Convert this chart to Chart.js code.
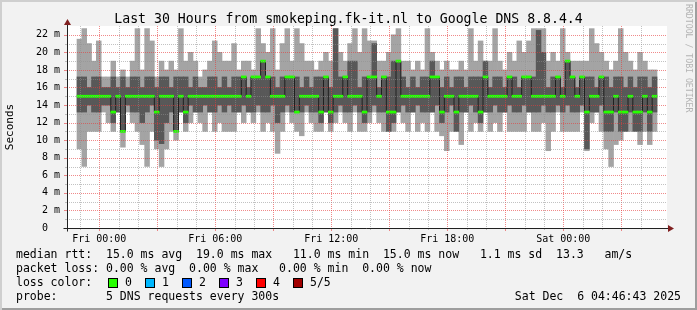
<!DOCTYPE html>
<html>
<head>
<meta charset="utf-8">
<script src="https://cdn.jsdelivr.net/npm/chart.js@4"></script>
<style>
  html, body { margin: 0; padding: 0; }
  body { width: 697px; height: 310px; overflow: hidden; }
  #frame {
    position: relative; width: 697px; height: 310px; background: #f2f2f2;
    box-shadow: inset 2px 2px 0 #cfcfcf, inset -2px -2px 0 #9e9e9e;
    font-family: 'DejaVu Sans Mono', monospace; color: #000;
  }
  #rtt { position: absolute; left: 0; top: 0; }
  .txt { position: absolute; white-space: pre; font-size: 11.5px; line-height: 14px; }
  #title { position: absolute; left: 0; width: 697px; top: 11px; text-align: center; font-size: 13.2px; line-height: 16px; }
  #mark { position: absolute; left: 684px; top: 4px; writing-mode: vertical-rl; font-size: 8.2px; color: #b4b4b4; white-space: pre; }
  .box { position: absolute; width: 8px; height: 8px; border: 1px solid #000; }
</style>
</head>
<body>
<div id="frame">
  <canvas id="rtt" width="697" height="250"></canvas>
  <div id="title">Last 30 Hours from smokeping.fk-it.nl to Google DNS 8.8.4.4</div>
  <div id="mark">RRDTOOL / TOBI OETIKER</div>

  <div class="txt" style="left:16px; top:247px;">median rtt:  15.0 ms avg  19.0 ms max   11.0 ms min  15.0 ms now   1.1 ms sd  13.3   am/s</div>
  <div class="txt" style="left:16px; top:261px;">packet loss: 0.00 % avg  0.00 % max   0.00 % min  0.00 % now</div>
  <div class="txt" style="left:16px; top:275px;">loss color:</div>
  <div id="lossKey"></div>
  <div class="txt" style="left:16px; top:289px;">probe:       5 DNS requests every 300s</div>
  <div class="txt" style="right:16px; top:289px;">Sat Dec  6 04:46:43 2025</div>
</div>

<script>
/* ---------- Data: 5 DNS pings per 15 min slot, ms ---------- */
// slowest ping (top of light smoke)
const pingMax = [
  21.5, 22.7, 21, 19, 21.3, 17.2, 17.2, 19, 17.2, 18,
  17.2, 19, 22.7, 18, 22.7, 21.3, 17.2, 19, 18, 19,
  18, 22.7, 19, 20, 19, 17.2, 18, 19, 21.3, 20,
  19, 19, 21, 18, 19, 19, 18, 22.7, 21, 20,
  22.7, 18, 21, 22.7, 19, 22.7, 21, 19, 19, 18,
  19, 20, 19, 22.7, 20, 19, 21, 22.7, 20, 22.7,
  21.3, 21.3, 19, 19, 20, 22, 22.7, 19, 19, 18,
  19, 18, 22.7, 20, 19, 18, 19, 18, 18, 19,
  18, 22.7, 19, 21.3, 19, 19, 22.7, 19, 18, 20,
  19, 21.3, 20, 21.3, 22.7, 22.7, 22.7, 19, 20, 19,
  22.7, 20, 19, 19, 19, 19, 22.7, 21, 20, 19,
  18, 19, 22.7, 20, 19, 18, 20, 19, 18, 18
];
// 4th ping (top of dark smoke)
const pingHigh = [
  17.2, 17.2, 16, 17.2, 17.2, 16, 16, 17.2, 16, 17.2,
  16, 17.2, 17.2, 16, 17.2, 17.2, 16, 17.2, 17.2, 16,
  17.2, 17.2, 17.2, 16, 17.2, 16, 16, 17.2, 17.2, 16,
  17.2, 16, 17.2, 17.2, 17.2, 16, 17.2, 17.2, 19, 17.2,
  17.2, 16, 17.2, 17.2, 17.2, 17.2, 16, 17.2, 16, 17.2,
  17.2, 17.2, 16, 22.7, 17.2, 17.2, 19, 19, 16, 17.2,
  17.2, 21, 16, 17.2, 17.2, 19, 19, 17.2, 16, 17.2,
  16, 17.2, 17.2, 19, 17.2, 16, 17.2, 16, 17.2, 17.2,
  16, 17.2, 17.2, 17.2, 19, 16, 17.2, 17.2, 16, 17.2,
  17.2, 16, 17.2, 17.2, 17.2, 22.5, 20, 16, 17.2, 17.2,
  16, 19, 17.2, 16, 17.2, 17.2, 17.2, 16, 17.2, 17.2,
  16, 17.2, 17.2, 16, 17.2, 16, 17.2, 17.2, 16, 17.2
];
// median ping
const medianRtt = [
  15, 15, 15, 15, 15, 15, 15, 13.2, 15, 11,
  15, 15, 15, 15, 15, 15, 13.2, 15, 15, 15,
  11, 15, 13.2, 15, 15, 15, 15, 15, 15, 15,
  15, 15, 15, 15, 17.2, 15, 17.2, 17.2, 19, 17.2,
  15, 15, 15, 17.2, 17.2, 13.2, 15, 15, 15, 15,
  13.2, 17.2, 13.2, 15, 15, 17.2, 15, 15, 15, 13.2,
  17.2, 17.2, 15, 17.2, 13.2, 13.2, 19, 15, 15, 15,
  15, 15, 15, 17.2, 17.2, 13.2, 15, 15, 13.2, 15,
  15, 15, 15, 13.2, 17.2, 15, 15, 15, 15, 17.2,
  15, 15, 17.2, 17.2, 15, 15, 15, 15, 15, 17.2,
  15, 19, 17.2, 15, 17.2, 13.2, 15, 15, 17.2, 13.2,
  13.2, 15, 13.2, 13.2, 15, 13.2, 13.2, 15, 13.2, 15
];
// 2nd ping (bottom of dark smoke)
const pingLow = [
  13.2, 13.2, 14, 13.2, 13.2, 14, 14, 12, 13.2, 11,
  14, 13.2, 13.2, 12, 13.2, 14, 10, 9.6, 12, 13.2,
  11, 13.2, 12, 14, 13.2, 13.2, 14, 13.2, 13.2, 14,
  13.2, 14, 13.2, 13.2, 14, 13.2, 13.2, 14, 13.2, 13.2,
  14, 12, 13.2, 14, 13.2, 13.2, 13.2, 14, 13.2, 13.2,
  12, 13.2, 12, 13.2, 14, 13.2, 13.2, 14, 13.2, 12,
  13.2, 14, 13.2, 13.2, 11, 12, 13.2, 14, 13.2, 13.2,
  14, 13.2, 13.2, 13.2, 14, 12, 13.2, 14, 11, 13.2,
  13.2, 14, 13.2, 12, 13.2, 13.2, 14, 13.2, 13.2, 14,
  13.2, 13.2, 14, 13.2, 13.2, 13.2, 14, 13.2, 13.2, 14,
  13.2, 14, 13.2, 13.2, 14, 9, 13.2, 13.2, 14, 11,
  11, 13.2, 11, 11, 13.2, 11, 11, 13.2, 11, 13.2
];
// fastest ping (bottom of light smoke)
const pingMin = [
  9, 7, 11, 11, 11, 13.2, 12, 11, 13.2, 9.2,
  13.2, 12, 11, 9.5, 7, 11, 9, 7, 9, 11,
  10, 13.2, 11, 12, 13.2, 12, 11, 13.2, 11, 12,
  11, 11, 11, 13.2, 12, 13.2, 12, 13.2, 11, 12,
  11, 8.5, 11, 13.2, 12, 11, 10.5, 13.2, 12, 11,
  11, 13.2, 11, 12, 13.2, 12, 11, 13.2, 11, 11,
  12, 13.2, 12, 11, 11, 11, 13.2, 12, 11, 13.2,
  11, 12, 11, 13.2, 11, 10.5, 8.8, 11, 11, 9.5,
  13.2, 11, 12, 11, 13.2, 11, 12, 11, 13.2, 11,
  11, 11, 11, 13.2, 11, 11, 12, 8.8, 11, 13.2,
  11, 11, 11, 11, 13.2, 8.8, 12, 13.2, 11, 9,
  7, 9.5, 10, 11, 11, 11, 9.5, 11, 9.5, 11
];

// time axis, hours relative to Fri 00:00
const firstSlotHour = -1.15;
const slotHours = 0.25;
const timeTickHours = [0, 6, 12, 18, 24];
const timeTickLabels = ['Fri 00:00', 'Fri 06:00', 'Fri 12:00', 'Fri 18:00', 'Sat 00:00'];

const lossColors = ['#26ff00', '#00b8ff', '#0059ff', '#7e00ff', '#ff0000', '#a10000'];
const lossLabels = ['0', '1', '2', '3', '4', '5/5'];

/* ---------- Helpers ---------- */
const GRID = 'rgba(143,143,143,0.55)';
const MGRID = 'rgba(230,60,60,0.6)';
const ARROW = '#802020';
const MONO = "'DejaVu Sans Mono', monospace";

const slotTimes = medianRtt.map((_, i) => firstSlotHour + slotHours * (i + 0.5));
const span = (lo, hi) => slotTimes.map((t, i) => ({ x: t, y: [lo[i], hi[i]] }));
const hourGrid = [];
for (let h = -1; h <= 28; h++) hourGrid.push(h);
const msGrid = [];
for (let v = 0; v <= 22; v++) msGrid.push(v);

// loss colour key
const key = document.getElementById('lossKey');
lossColors.forEach((c, i) => {
    const x = 108 + i * 37;
    key.insertAdjacentHTML('beforeend',
        `<div class="box" style="left:${x}px; top:278px; background:${c}"></div>` +
        `<div class="txt" style="left:${x + 17}px; top:275px;">${lossLabels[i]}</div>`);
});

/* ---------- Plugins ---------- */
const canvasBack = {
    id: 'canvasBack',
    beforeDraw(chart) {
        const { ctx, chartArea: a } = chart;
        ctx.save();
        ctx.fillStyle = '#ffffff';
        ctx.fillRect(a.left, a.top, a.right - a.left, a.bottom - a.top);
        ctx.restore();
    }
};

// rrdtool draws its dotted grid over the smoke
const gridOverlay = {
    id: 'gridOverlay',
    afterDatasetsDraw(chart) {
        const { ctx, chartArea: a, scales: { x, y } } = chart;
        ctx.save();
        ctx.lineWidth = 1;
        ctx.setLineDash([1, 1]);
        hourGrid.forEach(h => {
            const px = Math.round(x.getPixelForValue(h)) + 0.5;
            ctx.strokeStyle = h % 3 === 0 ? MGRID : GRID;
            ctx.beginPath(); ctx.moveTo(px, a.top); ctx.lineTo(px, a.bottom); ctx.stroke();
        });
        msGrid.forEach(v => {
            if (v === 0) return;
            const py = Math.round(y.getPixelForValue(v)) + 0.5;
            ctx.strokeStyle = v % 2 === 0 ? MGRID : GRID;
            ctx.beginPath(); ctx.moveTo(a.left, py); ctx.lineTo(a.right, py); ctx.stroke();
        });
        // tick marks outside the plot
        ctx.setLineDash([]);
        hourGrid.forEach(h => {
            const px = Math.round(x.getPixelForValue(h)) + 0.5;
            const major = h % 3 === 0;
            ctx.strokeStyle = major ? MGRID : GRID;
            ctx.beginPath(); ctx.moveTo(px, a.bottom); ctx.lineTo(px, a.bottom + (major ? 3 : 2)); ctx.stroke();
        });
        msGrid.forEach(v => {
            const py = Math.round(y.getPixelForValue(v)) + 0.5;
            const major = v % 2 === 0;
            ctx.strokeStyle = major ? MGRID : GRID;
            ctx.beginPath(); ctx.moveTo(a.left, py); ctx.lineTo(a.left - (major ? 3 : 2), py); ctx.stroke();
        });
        ctx.restore();
    }
};

const axisArrows = {
    id: 'axisArrows',
    afterDraw(chart) {
        const { ctx, chartArea: a } = chart;
        const x0 = a.left + 0.5, y0 = a.bottom + 0.5;
        ctx.save();
        ctx.strokeStyle = '#212121';
        ctx.lineWidth = 1;
        ctx.beginPath();
        ctx.moveTo(x0 - 4, y0); ctx.lineTo(a.right + 2, y0);
        ctx.moveTo(x0, y0 + 3); ctx.lineTo(x0, a.top - 3);
        ctx.stroke();
        ctx.fillStyle = ARROW;
        ctx.beginPath();
        ctx.moveTo(x0, a.top - 7); ctx.lineTo(x0 - 3.5, a.top - 1); ctx.lineTo(x0 + 3.5, a.top - 1);
        ctx.closePath(); ctx.fill();
        ctx.beginPath();
        ctx.moveTo(a.right + 7, y0); ctx.lineTo(a.right + 1, y0 - 3.5); ctx.lineTo(a.right + 1, y0 + 3.5);
        ctx.closePath(); ctx.fill();
        ctx.restore();
    }
};

/* ---------- Chart ---------- */
new Chart(document.getElementById('rtt'), {
    data: {
        datasets: [
            {
                type: 'bar', label: 'smoke 1/5',
                data: span(pingMin, pingMax),
                backgroundColor: '#a4a4a4', order: 4
            },
            {
                type: 'bar', label: 'smoke 2/4',
                data: span(pingLow, pingHigh),
                backgroundColor: '#585858', order: 3
            },
            {
                type: 'line', label: 'median',
                data: slotTimes.map((t, i) => ({ x: t, y: medianRtt[i] })),
                borderColor: '#202020', borderWidth: 1,
                stepped: 'middle', pointRadius: 0, order: 2
            },
            {
                type: 'bar', label: 'loss 0',
                data: slotTimes.map((t, i) => ({ x: t, y: [medianRtt[i] - 0.12, medianRtt[i] + 0.12] })),
                backgroundColor: lossColors[0], order: 1
            }
        ]
    },
    options: {
        responsive: false,
        animation: false,
        events: [],
        layout: { padding: { top: 26, right: 30, left: 0, bottom: 0 } },
        datasets: {
            bar: { grouped: false, barPercentage: 1, categoryPercentage: 1, borderWidth: 0 }
        },
        plugins: { legend: { display: false }, tooltip: { enabled: false } },
        scales: {
            x: {
                type: 'linear',
                min: firstSlotHour,
                max: firstSlotHour + slotHours * medianRtt.length,
                afterBuildTicks: s => { s.ticks = hourGrid.map(v => ({ value: v })); },
                afterFit: s => { s.height = 22; },
                ticks: {
                    autoSkip: false, maxRotation: 0, padding: 5,
                    color: '#000', font: { family: MONO, size: 10 },
                    callback: v => {
                        const k = timeTickHours.indexOf(v);
                        return k >= 0 ? timeTickLabels[k] : '';
                    }
                },
                grid: { display: false, drawTicks: false },
                border: { display: false }
            },
            y: {
                min: 0, max: 23,
                afterBuildTicks: s => { s.ticks = msGrid.map(v => ({ value: v })); },
                afterFit: s => { s.width = 67; },
                ticks: {
                    autoSkip: false, padding: 7,
                    color: '#000', font: { family: MONO, size: 10 },
                    callback: v => v === 0 ? '0  ' : (v % 2 === 0 ? v + ' m' : '')
                },
                grid: { display: false, drawTicks: false },
                border: { display: false },
                title: {
                    display: true, text: 'Seconds', color: '#000',
                    font: { family: MONO, size: 11 }, padding: { top: 4, bottom: 0 }
                }
            }
        }
    },
    plugins: [canvasBack, gridOverlay, axisArrows]
});
</script>
</body>
</html>
